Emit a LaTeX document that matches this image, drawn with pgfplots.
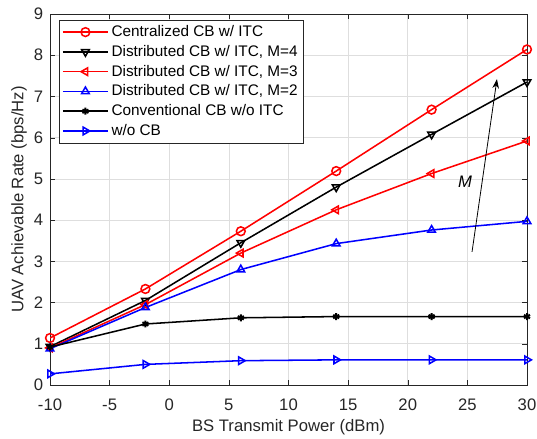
\documentclass[border=0pt]{standalone}
\usepackage{pgfplots}
\pgfplotsset{compat=1.18}
\usepackage{fontspec}
\setmainfont{Liberation Sans}
\usetikzlibrary{arrows.meta}
\definecolor{axgray}{rgb}{0.15,0.15,0.15}
\definecolor{gridgray}{rgb}{0.87,0.87,0.87}
\tikzset{ln/.style={line width=1.15pt, mark size=3.3pt}}

\begin{document}
\begin{tikzpicture}
\begin{axis}[
  scale only axis, width=357.75pt, height=278.25pt,
  xmin=-10, xmax=30, ymin=0, ymax=9,
  xtick={-10,-5,...,30}, ytick={0,1,...,9},
  /pgf/number format/assume math mode=true,
  tick label style={font=\fontsize{12.5}{14}\selectfont, color=axgray},
  label style={font=\fontsize{12.5}{14}\selectfont, color=axgray},
  xticklabel style={anchor=center, yshift=-15pt},
  yticklabel style={anchor=east, inner sep=0pt, xshift=-5pt},
  xlabel={BS Transmit Power (dBm)},
  ylabel={UAV Achievable Rate (bps/Hz)},
  xlabel style={at={(axis description cs:0.5,0)}, anchor=center, yshift=-32pt},
  ylabel style={at={(axis description cs:0,0.5)}, anchor=center, yshift=23.25pt},
  axis line style={axgray}, tick style={axgray},
  tick align=inside, major tick length=4pt,
  grid=major, grid style={gridgray, line width=0.5pt},
  legend style={at={(0.019,0.984)}, anchor=north west, draw=axgray,
    font=\fontsize{11.5}{14}\selectfont, row sep=1pt, inner sep=2pt},
  legend cell align=left,
  legend image code/.code={\draw[mark repeat=2,mark phase=2] plot coordinates {(0pt,0pt)(17pt,0pt)(34pt,0pt)};},
]
\addplot[ln, red, mark=o] coordinates {(-10,1.14)(-2,2.33)(6,3.73)(14,5.19)(22,6.68)(30,8.14)};
\addlegendentry{Centralized CB w/ ITC}
\addplot[ln, black, mark=triangle, mark options={rotate=180}] coordinates {(-10,0.93)(-2,2.05)(6,3.45)(14,4.80)(22,6.08)(30,7.35)};
\addlegendentry{Distributed CB w/ ITC, M=4}
\addplot[ln, red, mark=triangle, mark options={rotate=90}] coordinates {(-10,0.90)(-2,1.95)(6,3.20)(14,4.25)(22,5.13)(30,5.92)};
\addlegendentry{Distributed CB w/ ITC, M=3}
\addplot[ln, blue, mark=triangle] coordinates {(-10,0.88)(-2,1.88)(6,2.80)(14,3.43)(22,3.76)(30,3.97)};
\addlegendentry{Distributed CB w/ ITC, M=2}
\addplot[ln, black, mark=asterisk, mark size=2.6pt, mark options={line width=1.5pt}] coordinates {(-10,0.92)(-2,1.48)(6,1.63)(14,1.66)(22,1.66)(30,1.66)};
\addlegendentry{Conventional CB w/o ITC}
\addplot[ln, blue, mark=triangle, mark options={rotate=-90}] coordinates {(-10,0.27)(-2,0.50)(6,0.59)(14,0.61)(22,0.61)(30,0.61)};
\addlegendentry{w/o CB}
\draw[black, line width=0.6pt, -{Stealth[length=7pt,width=5pt]}] (axis cs:25.39,3.23) -- (axis cs:27.48,7.42);
\node[font=\fontsize{12.5}{14}\selectfont\itshape] at (axis cs:24.8,4.93) {M};
\end{axis}
\pgfresetboundingbox
\path[use as bounding box] ([xshift=-37.5pt,yshift=-39.75pt]current axis.south west) rectangle ([xshift=7.5pt,yshift=10.5pt]current axis.north east);
\end{tikzpicture}
\end{document}
